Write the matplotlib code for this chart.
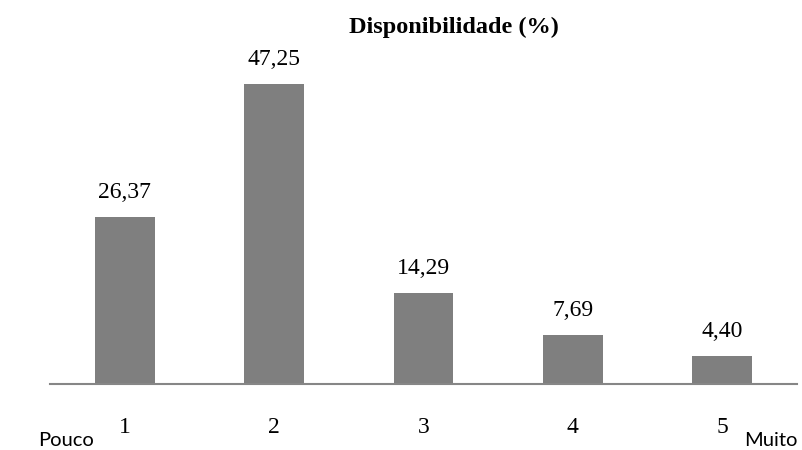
import matplotlib
matplotlib.use("Agg")
import matplotlib.pyplot as plt

categories = ["1", "2", "3", "4", "5"]
values = [26.37, 47.25, 14.29, 7.69, 4.40]
value_labels = ["26,37", "47,25", "14,29", "7,69", "4,40"]
title = "Disponibilidade (%)"
low_label = "Pouco"
high_label = "Muito"

fig = plt.figure(figsize=(8.02, 4.5), dpi=100)
ax = fig.add_axes([50 / 802, 66 / 450, 747 / 802, 317.5 / 450])

x = list(range(1, len(categories) + 1))
ax.bar(x, values, width=0.4, color="#7f7f7f", zorder=2)
for xi, v, lab in zip(x, values, value_labels):
    ax.annotate(lab, (xi, v), xytext=(0, 10), textcoords="offset points",
                ha="center", va="bottom", fontsize=17, family="Liberation Serif")

ax.set_xlim(0.5, 5.5)
ax.set_ylim(0, 50)
ax.set_yticks([])
ax.set_xticks(x)
ax.set_xticklabels(categories, family="Liberation Serif", fontsize=17)
ax.tick_params(axis="x", length=0, pad=24)
for side in ("top", "right", "left"):
    ax.spines[side].set_visible(False)
ax.spines["bottom"].set_color("#868686")
ax.spines["bottom"].set_linewidth(1.5)

fig.text(454 / 802, 1 - 27 / 450, title, ha="center", va="center",
         fontsize=17.5, fontweight="bold", family="Liberation Serif")
fig.text(38 / 802, 1 - 440 / 450, low_label, ha="left", va="center",
         fontsize=14.5, family="Lato")
fig.text(797 / 802, 1 - 440 / 450, high_label, ha="right", va="center",
         fontsize=14.5, family="Lato")

fig.savefig("out.png", dpi=100)
